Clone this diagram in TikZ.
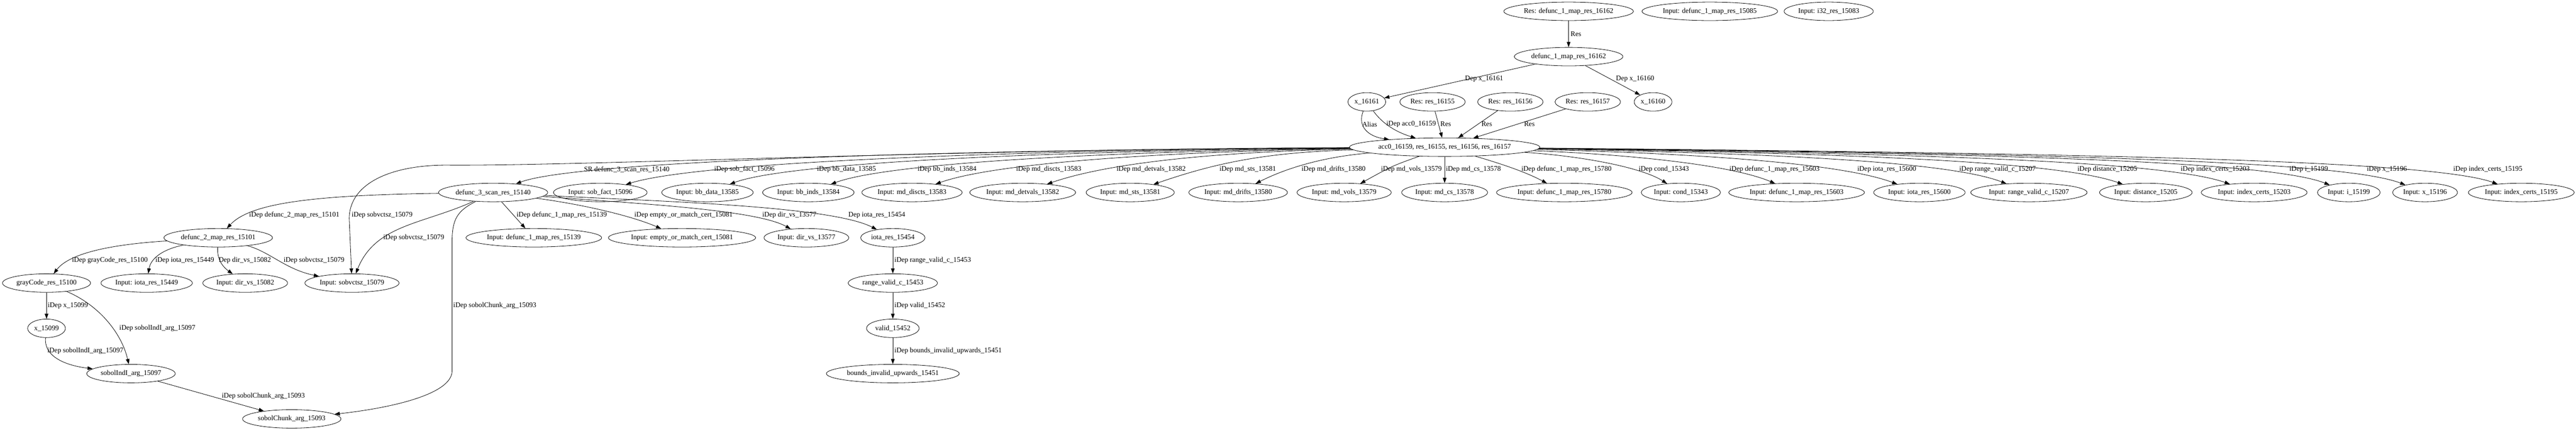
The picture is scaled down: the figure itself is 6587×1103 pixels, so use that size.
\documentclass[tikz,border=0pt]{standalone}
\usepackage{fontspec}
\setmainfont{Liberation Serif}
\usetikzlibrary{arrows.meta, shapes.geometric}
\newcommand{\gvsize}{\fontsize{13.5}{16}\selectfont}

\begin{document}
\begin{tikzpicture}[x=0.75pt, y=-0.75pt,
    gv/.style={draw, ellipse, line width=0.8pt, minimum height=35.5pt, minimum width=54pt, inner xsep=2pt, inner ysep=1pt, font=\gvsize},
    dep/.style={-{Triangle[length=10pt,width=7pt]}, line width=0.8pt},
    lbl/.style={anchor=west, inner sep=0pt, font=\gvsize}]
    \path[use as bounding box, fill=white] (0,0) rectangle (6587,1103);

    % Top ranks
    \node[gv] (resdfa) at (4011,29) {Res: defunc\_1\_map\_res\_16162};
    \node[gv] (in15085) at (4372,29) {Input: defunc\_1\_map\_res\_15085};
    \node[gv] (in15083) at (4676,29) {Input: i32\_res\_15083};
    \node[gv] (dfa) at (4011,145) {defunc\_1\_map\_res\_16162};
    \node[gv] (x16161) at (3495,261) {x\_16161};
    \node[gv] (res16155) at (3663,261) {Res: res\_16155};
    \node[gv] (res16156) at (3862,261) {Res: res\_16156};
    \node[gv] (res16157) at (4060,261) {Res: res\_16157};
    \node[gv] (x16160) at (4227,261) {x\_16160};
    \node[gv] (acc) at (3694,377) {acc0\_16159, res\_16155, res\_16156, res\_16157};

    % Inputs of the loop
    \node[gv] (scan) at (1261,493) {defunc\_3\_scan\_res\_15140};
    \node[gv] (sobfact) at (1535,493) {Input: sob\_fact\_15096};
    \node[gv] (bbdata) at (1809,493) {Input: bb\_data\_13585};
    \node[gv] (bbinds) at (2067,493) {Input: bb\_inds\_13584};
    \node[gv] (discts) at (2332,493) {Input: md\_discts\_13583};
    \node[gv] (detvals) at (2615,493) {Input: md\_detvals\_13582};
    \node[gv] (sts) at (2890,493) {Input: md\_sts\_13581};
    \node[gv] (drifts) at (3166,493) {Input: md\_drifts\_13580};
    \node[gv] (vols) at (3437,493) {Input: md\_vols\_13579};
    \node[gv] (cs) at (3694,493) {Input: md\_cs\_13578};
    \node[gv] (in15780) at (4000,493) {Input: defunc\_1\_map\_res\_15780};
    \node[gv] (cond) at (4298,493) {Input: cond\_15343};
    \node[gv] (in15603) at (4594,493) {Input: defunc\_1\_map\_res\_15603};
    \node[gv] (iota15600) at (4908,493) {Input: iota\_res\_15600};
    \node[gv] (rvc15207) at (5188,493) {Input: range\_valid\_c\_15207};
    \node[gv] (dist) at (5487,493) {Input: distance\_15205};
    \node[gv] (ic15203) at (5764,493) {Input: index\_certs\_15203};
    \node[gv] (i15199) at (6006,493) {Input: i\_15199};
    \node[gv] (x15196) at (6201,493) {Input: x\_15196};
    \node[gv] (ic15195) at (6447,493) {Input: index\_certs\_15195};

    % Lower ranks
    \node[gv] (d2map) at (558,609) {defunc\_2\_map\_res\_15101};
    \node[gv] (in15139) at (1365,609) {Input: defunc\_1\_map\_res\_15139};
    \node[gv] (emptyor) at (1744,609) {Input: empty\_or\_match\_cert\_15081};
    \node[gv] (dirvs13577) at (2062,609) {Input: dir\_vs\_13577};
    \node[gv] (iota15454) at (2283,609) {iota\_res\_15454};
    \node[gv] (gray) at (119,725) {grayCode\_res\_15100};
    \node[gv] (iota15449) at (375,725) {Input: iota\_res\_15449};
    \node[gv] (dirvs15082) at (627,725) {Input: dir\_vs\_15082};
    \node[gv] (sobvctsz) at (900,725) {Input: sobvctsz\_15079};
    \node[gv] (rvc15453) at (2283,725) {range\_valid\_c\_15453};
    \node[gv] (x15099) at (119,841) {x\_15099};
    \node[gv] (valid) at (2283,841) {valid\_15452};
    \node[gv] (sobolindi) at (335,957) {sobolIndI\_arg\_15097};
    \node[gv] (bounds) at (2283,957) {bounds\_invalid\_upwards\_15451};
    \node[gv] (sobolchunk) at (746,1073) {sobolChunk\_arg\_15093};

    % Edges above the loop
    \draw[dep] (resdfa) -- (dfa);
    \draw[dep] (dfa) -- (x16161);
    \draw[dep] (dfa) -- (x16160);
    \draw[dep] (x16161) .. controls (3470,325) and (3500,350) .. (acc);
    \draw[dep] (x16161) .. controls (3530,310) and (3560,335) .. (acc);
    \draw[dep] (res16155) -- (acc);
    \draw[dep] (res16156) -- (acc);
    \draw[dep] (res16157) -- (acc);

    % Edges out of the loop, left side
    \draw[dep] (acc) .. controls (2500,383) and (1480,410) .. (scan);
    \draw[dep] (acc) .. controls (2650,384) and (1795,412) .. (sobfact);
    \draw[dep] (acc) .. controls (2800,385) and (2030,411) .. (bbdata);
    \draw[dep] (acc) .. controls (2950,386) and (2290,411) .. (bbinds);
    \draw[dep] (acc) .. controls (3050,387) and (2560,412) .. (discts);
    \draw[dep] (acc) .. controls (3150,388) and (2850,412) .. (detvals);
    \draw[dep] (acc) .. controls (3250,390) and (3120,413) .. (sts);
    \draw[dep] (acc) .. controls (3400,400) and (3300,425) .. (drifts);
    \draw[dep] (acc) .. controls (3560,425) .. (vols);
    \draw[dep] (acc) -- (cs);
    \draw[dep] (acc) .. controls (2400,383) and (1500,425) .. (1150,423)
        .. controls (1000,421) and (893,470) .. (893,560) -- (sobvctsz);

    % Edges out of the loop, right side
    \draw[dep] (acc) .. controls (3840,420) and (3900,440) .. (in15780);
    \draw[dep] (acc) .. controls (4050,400) and (4200,430) .. (cond);
    \draw[dep] (acc) .. controls (4150,395) and (4420,420) .. (in15603);
    \draw[dep] (acc) .. controls (4300,392) and (4700,415) .. (iota15600);
    \draw[dep] (acc) .. controls (4500,392) and (4980,412) .. (rvc15207);
    \draw[dep] (acc) .. controls (4700,392) and (5260,412) .. (dist);
    \draw[dep] (acc) .. controls (4900,393) and (5530,412) .. (ic15203);
    \draw[dep] (acc) .. controls (5100,393) and (5800,412) .. (i15199);
    \draw[dep] (acc) .. controls (5250,393) and (5990,412) .. (x15196);
    \draw[dep] (acc) .. controls (5400,393) and (6220,412) .. (ic15195);

    % Edges of the scan
    \draw[dep] (scan) .. controls (800,500) and (640,520) .. (d2map);
    \draw[dep] (scan) .. controls (1080,575) and (960,575) .. (sobvctsz);
    \draw[dep] (scan) .. controls (1170,540) and (1156,560) .. (1156,620) -- (1156,950)
        .. controls (1156,1010) and (1000,1045) .. (sobolchunk);
    \draw[dep] (scan) -- (in15139);
    \draw[dep] (scan) .. controls (1500,525) and (1620,555) .. (emptyor);
    \draw[dep] (scan) .. controls (1600,520) and (1930,535) .. (dirvs13577);
    \draw[dep] (scan) .. controls (1650,515) and (2120,525) .. (iota15454);
    \draw[dep] (iota15454) -- (rvc15453);
    \draw[dep] (rvc15453) -- (valid);
    \draw[dep] (valid) -- (bounds);

    % Edges of the map
    \draw[dep] (d2map) .. controls (300,625) and (180,645) .. (gray);
    \draw[dep] (d2map) .. controls (410,640) and (385,665) .. (iota15449);
    \draw[dep] (d2map) .. controls (555,660) and (565,680) .. (dirvs15082);
    \draw[dep] (d2map) .. controls (690,645) and (730,690) .. (sobvctsz);
    \draw[dep] (gray) -- (x15099);
    \draw[dep] (gray) .. controls (250,780) and (310,850) .. (sobolindi);
    \draw[dep] (x15099) .. controls (112,910) and (160,935) .. (sobolindi);
    \draw[dep] (sobolindi) -- (sobolchunk);

    % Edge labels
    \node[lbl] (l-res) at (4016,87) {Res};
    \node[lbl] (l-x61) at (3746,202) {Dep x\_16161};
    \node[lbl] (l-x60) at (4132,202) {Dep x\_16160};
    \node[lbl] (l-alias) at (3483,318) {Alias};
    \node[lbl] (l-acc) at (3545,318) {iDep acc0\_16159};
    \node[lbl] (l-r55) at (3683,318) {Res};
    \node[lbl] (l-r56) at (3788,318) {Res};
    \node[lbl] (l-r57) at (3897,318) {Res};

    \node[lbl] (l-scan) at (1493,434) {SR defunc\_3\_scan\_res\_15140};
    \node[lbl] (l-sobfact) at (1826,434) {iDep sob\_fact\_15096};
    \node[lbl] (l-bbdata) at (2089,434) {iDep bb\_data\_13585};
    \node[lbl] (l-bbinds) at (2346,434) {iDep bb\_inds\_13584};
    \node[lbl] (l-discts) at (2598,434) {iDep md\_discts\_13583};
    \node[lbl] (l-detvals) at (2855,434) {iDep md\_detvals\_13582};
    \node[lbl] (l-sts) at (3118,434) {iDep md\_sts\_13581};
    \node[lbl] (l-drifts) at (3328,434) {iDep md\_drifts\_13580};
    \node[lbl] (l-vols) at (3531,434) {iDep md\_vols\_13579};
    \node[lbl] (l-cs) at (3697,434) {iDep md\_cs\_13578};
    \node[lbl] (l-in15780) at (3890,434) {iDep defunc\_1\_map\_res\_15780};
    \node[lbl] (l-cond) at (4190,434) {iDep cond\_15343};
    \node[lbl] (l-in15603) at (4422,434) {iDep defunc\_1\_map\_res\_15603};
    \node[lbl] (l-iota15600) at (4749,434) {iDep iota\_res\_15600};
    \node[lbl] (l-rvc15207) at (5010,434) {iDep range\_valid\_c\_15207};
    \node[lbl] (l-dist) at (5312,434) {iDep distance\_15205};
    \node[lbl] (l-ic15203) at (5576,434) {iDep index\_certs\_15203};
    \node[lbl] (l-i15199) at (5854,434) {iDep i\_15199};
    \node[lbl] (l-x15196) at (6052,434) {iDep x\_15196};
    \node[lbl] (l-ic15195) at (6273,434) {iDep index\_certs\_15195};

    \node[lbl] (l-d2map) at (637,551) {iDep defunc\_2\_map\_res\_15101};
    \node[lbl] (l-accsob) at (899,551) {iDep sobvctsz\_15079};
    \node[lbl] (l-in15139) at (1321,551) {iDep defunc\_1\_map\_res\_15139};
    \node[lbl] (l-emptyor) at (1622,551) {iDep empty\_or\_match\_cert\_15081};
    \node[lbl] (l-dirvs13577) at (1949,551) {iDep dir\_vs\_13577};
    \node[lbl] (l-iota15454) at (2169,551) {Dep iota\_res\_15454};
    \node[lbl] (l-scansob) at (980,609) {iDep sobvctsz\_15079};

    \node[lbl] (l-gray) at (184,667) {iDep grayCode\_res\_15100};
    \node[lbl] (l-iota15449) at (397,667) {iDep iota\_res\_15449};
    \node[lbl] (l-dirvs15082) at (559,667) {Dep dir\_vs\_15082};
    \node[lbl] (l-mapsob) at (725,667) {iDep sobvctsz\_15079};
    \node[lbl] (l-rvc15453) at (2287,667) {iDep range\_valid\_c\_15453};
    \node[lbl] (l-x15099) at (122,783) {iDep x\_15099};
    \node[lbl] (l-scanchunk) at (1159,783) {iDep sobolChunk\_arg\_15093};
    \node[lbl] (l-valid) at (2287,783) {iDep valid\_15452};
    \node[lbl] (l-graysobol) at (305,841) {iDep sobolIndI\_arg\_15097};
    \node[lbl] (l-xsobol) at (121,899) {iDep sobolIndI\_arg\_15097};
    \node[lbl] (l-bounds) at (2287,899) {iDep bounds\_invalid\_upwards\_15451};
    \node[lbl] (l-chunk) at (567,1015) {iDep sobolChunk\_arg\_15093};
\end{tikzpicture}
\end{document}
